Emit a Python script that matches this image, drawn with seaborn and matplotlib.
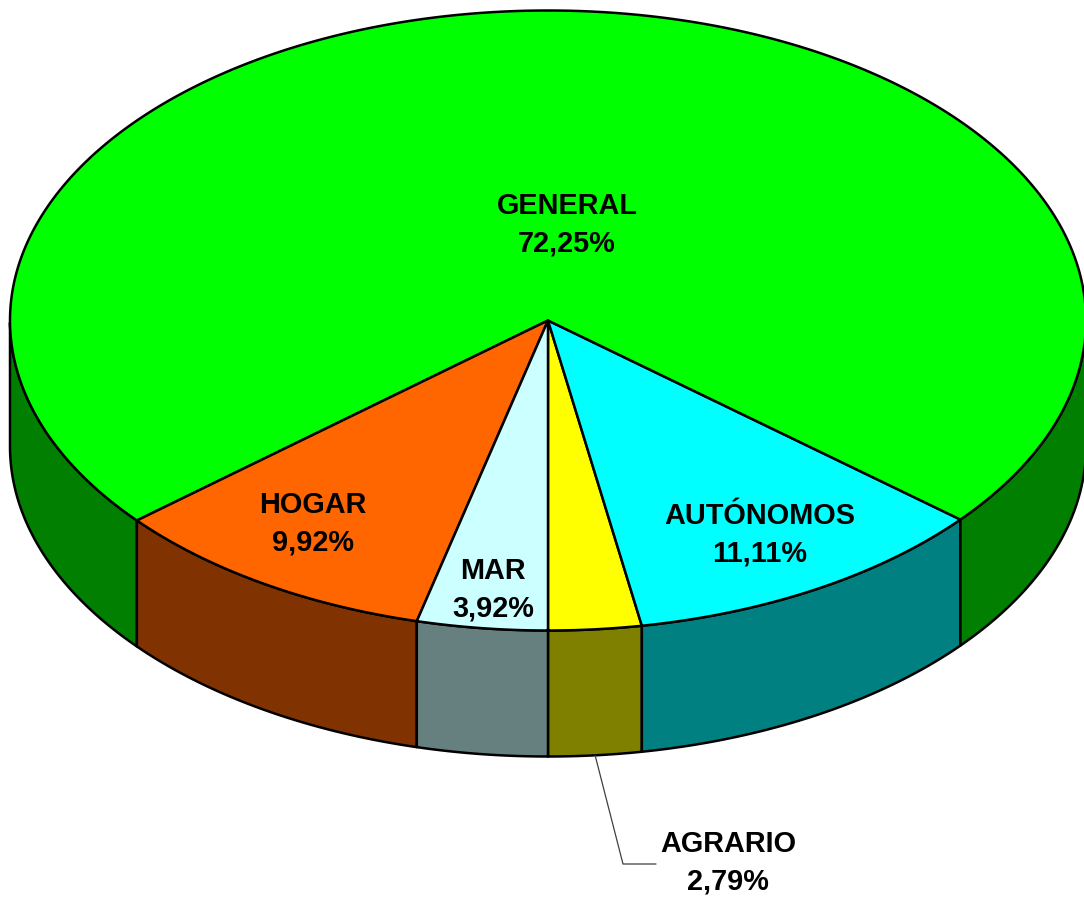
import numpy as np
import matplotlib
matplotlib.use('Agg')
import matplotlib.pyplot as plt
from matplotlib.patches import Polygon
import seaborn as sns

# data, in drawing order (counterclockwise from the bottom)
names = ['AGRARIO', 'AUTÓNOMOS', 'GENERAL', 'HOGAR', 'MAR']
shares = [2.79, 11.11, 72.25, 9.92, 3.92]
top_colors = ['#FFFF00', '#00FFFF', '#00FF00', '#FF6600', '#CCFFFF']
side_colors = ['#808000', '#008080', '#007F00', '#803300', '#668080']

# layout of the fake 3d pie (pixel units)
cx, cy = 548, 320.5
rx, ry = 538, 310
depth = 126
label_pos = [(728, 863), (760, 535), (567, 225), (313, 524), (493, 590)]

sns.set_theme(style='white')
plt.rcParams['font.family'] = ['Liberation Sans', 'DejaVu Sans']

fig = plt.figure(figsize=(10.84, 8.98), dpi=100)
ax = fig.add_axes([0, 0, 1, 1])
ax.set_xlim(0, 1084)
ax.set_ylim(898, 0)
ax.axis('off')

fr = np.array(shares) / sum(shares)
edges = -90 + 360 * np.concatenate([[0], np.cumsum(fr)])


def pt(th, dz=0.0):
    t = np.radians(th)
    return cx + rx * np.cos(t), cy - ry * np.sin(t) + dz


# side walls first (only the front half is visible)
for i in range(len(shares)):
    th = np.linspace(edges[i], edges[i + 1], 400)
    front = np.sin(np.radians(th)) <= 1e-9
    runs, cur = [], []
    for t, f in zip(th, front):
        if f:
            cur.append(t)
        elif cur:
            runs.append(cur)
            cur = []
    if cur:
        runs.append(cur)
    for r in runs:
        r = np.array(r)
        xs, ys = pt(r)
        xb, yb = pt(r[::-1], depth)
        poly = np.column_stack([np.r_[xs, xb], np.r_[ys, yb]])
        ax.add_patch(Polygon(poly, closed=True, facecolor=side_colors[i],
                             edgecolor='black', lw=1.8, joinstyle='round'))

# top face
for i in range(len(shares)):
    th = np.linspace(edges[i], edges[i + 1], 400)
    xs, ys = pt(th)
    poly = np.column_stack([np.r_[cx, xs], np.r_[cy, ys]])
    ax.add_patch(Polygon(poly, closed=True, facecolor=top_colors[i],
                         edgecolor='black', lw=1.8, joinstyle='round'))

# labels
for name, s, (lx, ly) in zip(names, shares, label_pos):
    txt = '{}\n{:.2f}%'.format(name, s).replace('.', ',')
    ax.text(lx, ly, txt, ha='center', va='center', fontsize=20.8,
            fontweight='bold', linespacing=1.45, color='black')

# leader line for the small slice
mid = (edges[0] + edges[1]) / 2
x0, y0 = pt(mid, depth)
ax.plot([x0, 623, 656], [y0, 864, 864], color='#404040', lw=0.9)

fig.savefig('out.png', dpi=100)
